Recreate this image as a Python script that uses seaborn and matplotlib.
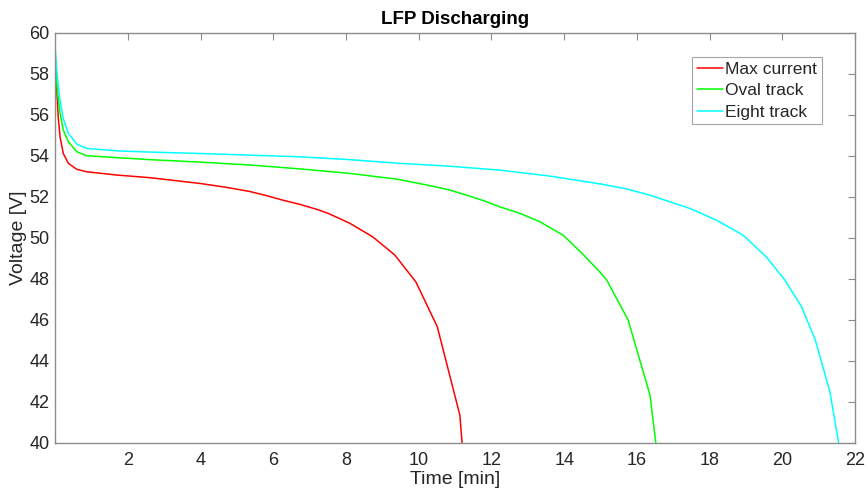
import matplotlib
matplotlib.use("Agg")
import matplotlib.pyplot as plt
import seaborn as sns
import pandas as pd

# Discharge curves (time in min, voltage in V)
max_time = [0.0, 0.04, 0.08, 0.13, 0.22, 0.36, 0.59, 0.86, 1.69, 2.61, 3.98, 4.67,
            5.35, 5.8, 6.27, 6.73, 7.19, 7.51, 8.1, 8.73, 9.34, 9.92, 10.51, 11.13, 11.19]
max_volt = [58.55, 57.2, 55.9, 54.92, 54.1, 53.62, 53.33, 53.21, 53.05, 52.92, 52.64,
            52.46, 52.25, 52.05, 51.82, 51.62, 51.38, 51.18, 50.7, 50.04, 49.15, 47.84,
            45.65, 41.34, 40.0]

oval_time = [0.0, 0.055, 0.13, 0.22, 0.36, 0.59, 0.86, 1.69, 2.61, 3.98, 5.35, 6.73,
             8.1, 9.4, 10.4, 10.85, 11.3, 11.78, 12.23, 12.8, 13.33, 13.97, 14.48, 14.98,
             15.17, 15.76, 16.36, 16.52]
oval_volt = [58.55, 57.2, 56.06, 55.24, 54.67, 54.19, 53.99, 53.9, 53.8, 53.68, 53.54,
             53.35, 53.13, 52.85, 52.5, 52.32, 52.08, 51.8, 51.5, 51.17, 50.77, 50.12,
             49.25, 48.33, 47.93, 45.98, 42.32, 40.0]

eight_time = [0.0, 0.055, 0.13, 0.22, 0.36, 0.59, 0.86, 1.69, 2.61, 3.98, 5.35, 6.73,
              8.1, 9.48, 10.85, 12.23, 13.6, 14.98, 15.7, 16.36, 17.46, 18.19, 18.92,
              19.56, 20.07, 20.53, 20.91, 21.31, 21.55]
eight_volt = [59.15, 57.84, 56.7, 55.8, 55.08, 54.56, 54.35, 54.23, 54.17, 54.1, 54.02,
              53.94, 53.8, 53.62, 53.48, 53.29, 53.0, 52.62, 52.38, 52.07, 51.42, 50.85,
              50.12, 49.06, 47.93, 46.63, 45.0, 42.48, 40.0]

labels = ["Max current", "Oval track", "Eight track"]
colors = ["#ff0000", "#00ff00", "#00ffff"]

df = pd.concat([
    pd.DataFrame({"time": max_time, "volt": max_volt, "case": labels[0]}),
    pd.DataFrame({"time": oval_time, "volt": oval_volt, "case": labels[1]}),
    pd.DataFrame({"time": eight_time, "volt": eight_volt, "case": labels[2]}),
])

sns.set_style("white")
plt.rcParams["font.family"] = ["Liberation Sans", "DejaVu Sans"]

fig, ax = plt.subplots(figsize=(8.68, 4.97), dpi=100)
fig.subplots_adjust(left=0.0637, right=0.985, top=0.9346, bottom=0.1093)

sns.lineplot(data=df, x="time", y="volt", hue="case", hue_order=labels,
             palette=colors, estimator=None, sort=False, linewidth=1.1, ax=ax)

ax.set_xlim(0, 22)
ax.set_ylim(40, 60)
ax.set_xticks(range(2, 23, 2))
ax.set_yticks(range(40, 61, 2))

axis_gray = "#8c8c8c"
text_gray = "#262626"
for side in ["left", "right", "top", "bottom"]:
    ax.spines[side].set_visible(True)
    ax.spines[side].set_color(axis_gray)
    ax.spines[side].set_linewidth(1.0)
ax.tick_params(direction="in", length=5, width=0.8, color=axis_gray,
               top=True, right=True, labelsize=13, labelcolor=text_gray)
ax.tick_params(axis="x", pad=7)
ax.tick_params(axis="y", pad=4)

ax.set_title("LFP Discharging", fontsize=13.5, fontweight="bold", color="black", pad=6)
ax.set_xlabel("Time [min]", fontsize=14, color=text_gray, labelpad=1)
ax.set_ylabel("Voltage [V]", fontsize=14, color=text_gray, labelpad=2)

leg = ax.legend(loc="upper right", bbox_to_anchor=(0.959, 0.94), borderaxespad=0,
                fontsize=12.5, frameon=True, fancybox=False, handlelength=1.5,
                handletextpad=0.15, labelspacing=0.35, borderpad=0.28)
leg.get_frame().set_edgecolor(axis_gray)
leg.get_frame().set_linewidth(0.8)
for t in leg.get_texts():
    t.set_color(text_gray)

fig.savefig("out.png", dpi=100)
